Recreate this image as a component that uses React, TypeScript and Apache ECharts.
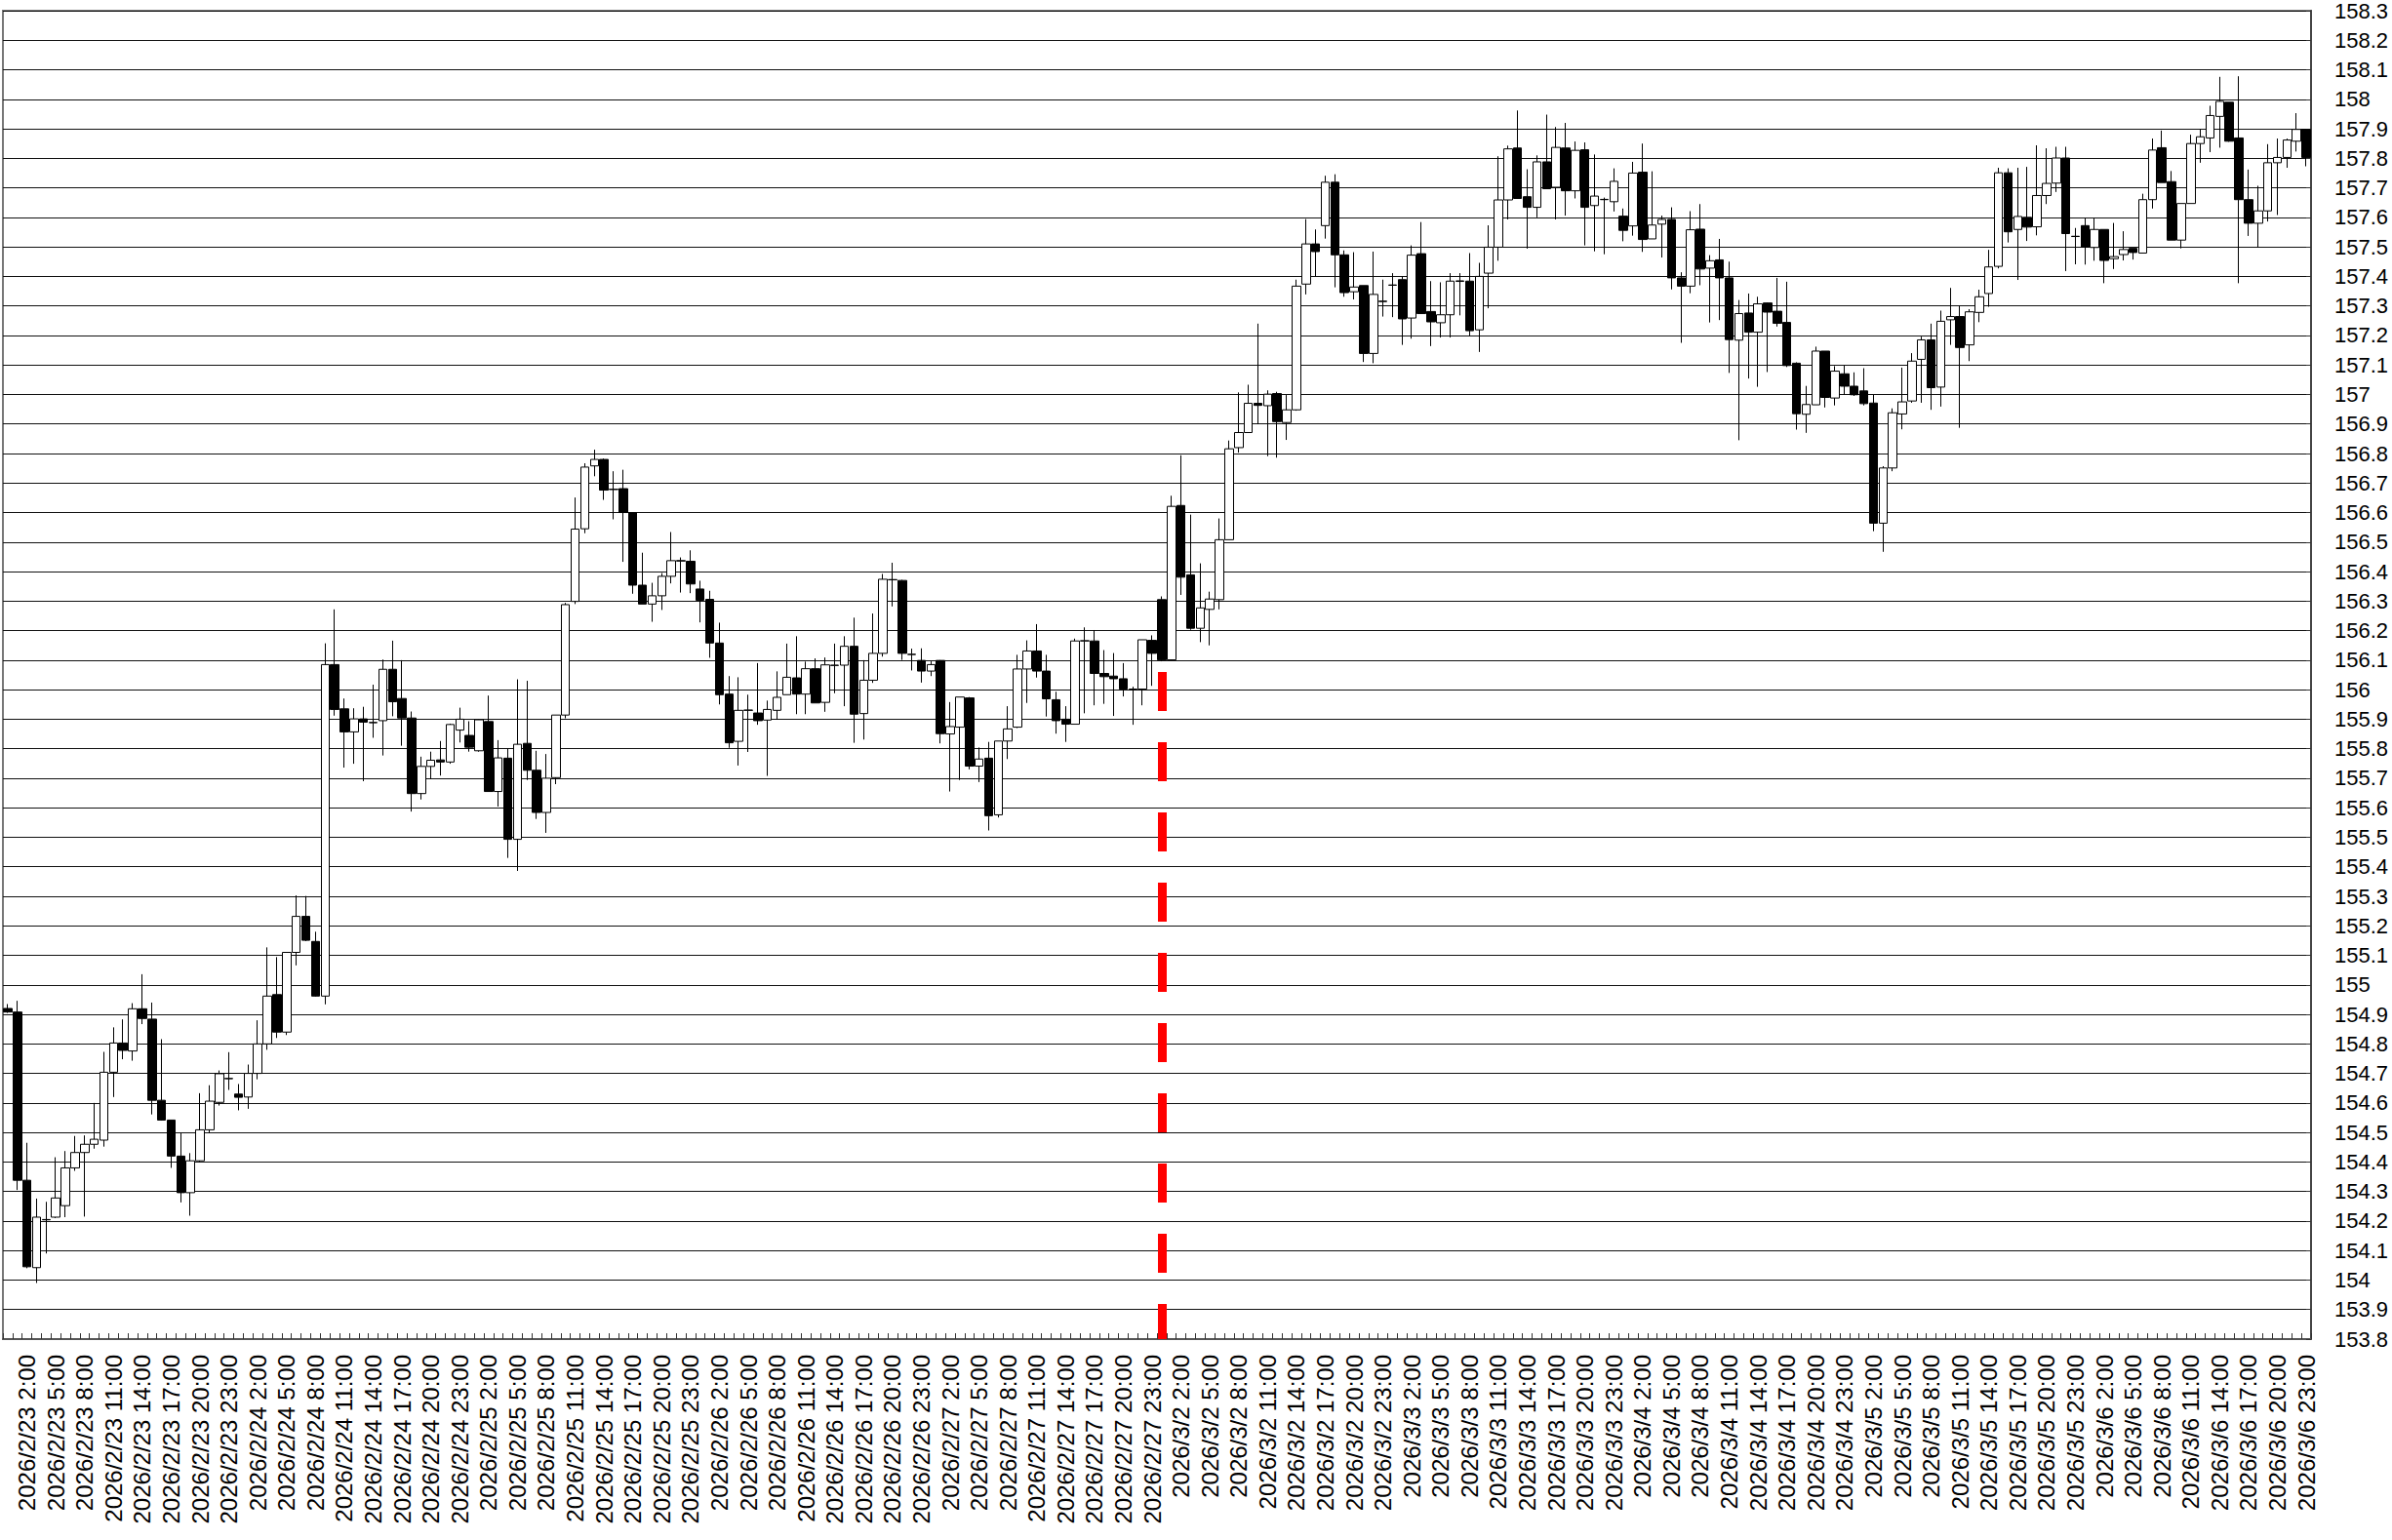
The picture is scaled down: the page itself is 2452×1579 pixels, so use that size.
import React, { useEffect, useRef } from 'react';
import * as echarts from 'echarts';

const days = ['2026/2/23', '2026/2/24', '2026/2/25', '2026/2/26', '2026/2/27', '2026/3/2', '2026/3/3', '2026/3/4', '2026/3/5', '2026/3/6'];
const hourLabels = Array.from({ length: 24 }, (_, h) => `${h}:00`);
const categories = days.flatMap((d) => hourLabels.map((h) => `${d} ${h}`));

const openP = [
  154.92, 154.908, 154.338, 154.042, 154.205, 154.213, 154.252, 154.38, 154.432, 154.46,
  154.474, 154.704, 154.803, 154.776, 154.919, 154.884, 154.609, 154.542, 154.42, 154.296,
  154.404, 154.509, 154.602, 154.682, 154.63, 154.62, 154.7, 154.8, 154.967, 154.84,
  155.11, 155.232, 155.147, 154.962, 156.085, 155.935, 155.857, 155.901, 155.888, 155.895,
  156.069, 155.97, 155.904, 155.648, 155.74, 155.762, 155.755, 155.863, 155.845, 155.793,
  155.892, 155.655, 155.768, 155.493, 155.818, 155.727, 155.584, 155.702, 155.914, 156.299,
  156.545, 156.758, 156.78, 156.679, 156.681, 156.6, 156.354, 156.29, 156.318, 156.384,
  156.437, 156.435, 156.341, 156.306, 156.158, 155.985, 155.825, 155.93, 155.921, 155.897,
  155.93, 155.983, 156.04, 155.985, 156.071, 155.957, 156.082, 156.083, 156.147, 155.919,
  156.032, 156.123, 156.372, 156.37, 156.119, 156.099, 156.063, 156.099, 155.85, 155.873,
  155.972, 155.741, 155.768, 155.576, 155.826, 155.873, 156.07, 156.131, 156.063, 155.966,
  155.9, 155.883, 156.165, 156.165, 156.055, 156.046, 156.037, 156.002, 156.002, 156.167,
  156.305, 156.101, 156.624, 156.389, 156.208, 156.272, 156.305, 156.508, 156.82, 156.871,
  156.97, 156.962, 157.003, 156.905, 156.948, 157.374, 157.51, 157.572, 157.719, 157.473,
  157.348, 157.369, 157.139, 157.316, 157.37, 157.389, 157.259, 157.477, 157.281, 157.243,
  157.27, 157.383, 157.384, 157.219, 157.411, 157.499, 157.659, 157.835, 157.67, 157.634,
  157.788, 157.702, 157.835, 157.69, 157.829, 157.64, 157.66, 157.653, 157.604, 157.571,
  157.753, 157.527, 157.577, 157.593, 157.395, 157.367, 157.56, 157.428, 157.456, 157.395,
  157.184, 157.276, 157.211, 157.31, 157.282, 157.244, 157.106, 156.933, 156.965, 157.147,
  156.988, 157.07, 157.028, 157.012, 156.971, 156.564, 156.751, 156.934, 156.978, 157.119,
  157.185, 157.025, 157.253, 157.264, 157.168, 157.278, 157.342, 157.434, 157.751, 157.559,
  157.6, 157.568, 157.674, 157.716, 157.801, 157.536, 157.572, 157.498, 157.559, 157.46,
  157.474, 157.495, 157.479, 157.66, 157.836, 157.721, 157.523, 157.647, 157.85, 157.869,
  157.942, 157.99, 157.869, 157.66, 157.58, 157.622, 157.785, 157.803, 157.858, 157.898,
];

const closeP = [
  154.908, 154.338, 154.045, 154.213, 154.204, 154.278, 154.38, 154.432, 154.46, 154.477,
  154.704, 154.803, 154.778, 154.919, 154.886, 154.609, 154.542, 154.42, 154.296, 154.404,
  154.509, 154.606, 154.699, 154.683, 154.619, 154.7, 154.8, 154.962, 154.84, 155.11,
  155.232, 155.151, 154.962, 156.085, 155.933, 155.857, 155.901, 155.89, 155.889, 156.069,
  155.959, 155.904, 155.648, 155.74, 155.761, 155.755, 155.882, 155.9, 155.805, 155.898,
  155.655, 155.769, 155.493, 155.815, 155.727, 155.584, 155.7, 155.914, 156.288, 156.544,
  156.754, 156.78, 156.676, 156.678, 156.6, 156.354, 156.29, 156.318, 156.384, 156.437,
  156.436, 156.358, 156.303, 156.158, 155.983, 155.82, 155.93, 155.931, 155.895, 155.933,
  155.974, 156.042, 155.985, 156.071, 155.955, 156.084, 156.083, 156.147, 155.917, 156.032,
  156.123, 156.374, 156.373, 156.123, 156.12, 156.063, 156.085, 155.851, 155.875, 155.975,
  155.741, 155.765, 155.573, 155.826, 155.867, 156.07, 156.131, 156.063, 155.969, 155.895,
  155.883, 156.165, 156.166, 156.055, 156.044, 156.037, 156.002, 156.001, 156.169, 156.123,
  156.101, 156.621, 156.381, 156.208, 156.277, 156.307, 156.508, 156.816, 156.871, 156.97,
  156.963, 157.001, 156.908, 156.948, 157.367, 157.51, 157.484, 157.719, 157.473, 157.345,
  157.364, 157.139, 157.339, 157.315, 157.371, 157.256, 157.472, 157.274, 157.246, 157.27,
  157.384, 157.385, 157.216, 157.4, 157.499, 157.659, 157.832, 157.664, 157.634, 157.788,
  157.697, 157.837, 157.69, 157.827, 157.634, 157.672, 157.661, 157.722, 157.556, 157.75,
  157.525, 157.574, 157.593, 157.395, 157.367, 157.558, 157.425, 157.453, 157.395, 157.186,
  157.274, 157.211, 157.307, 157.279, 157.241, 157.098, 156.935, 156.966, 157.147, 156.99,
  157.079, 157.028, 156.999, 156.969, 156.564, 156.751, 156.938, 156.975, 157.113, 157.185,
  157.023, 157.248, 157.264, 157.159, 157.28, 157.331, 157.432, 157.751, 157.551, 157.603,
  157.567, 157.674, 157.715, 157.801, 157.545, 157.535, 157.5, 157.559, 157.454, 157.467,
  157.491, 157.481, 157.66, 157.828, 157.718, 157.523, 157.647, 157.85, 157.873, 157.945,
  157.993, 157.858, 157.66, 157.58, 157.622, 157.785, 157.803, 157.862, 157.898, 157.803,
];

const lowP = [
  154.905, 154.305, 154.04, 153.99, 154.09, 154.21, 154.213, 154.37, 154.215, 154.445,
  154.452, 154.62, 154.748, 154.743, 154.867, 154.561, 154.54, 154.38, 154.263, 154.218,
  154.4, 154.498, 154.591, 154.644, 154.575, 154.58, 154.68, 154.78, 154.82, 154.83,
  155.066, 155.148, 154.96, 154.934, 155.912, 155.736, 155.749, 155.69, 155.837, 155.777,
  155.91, 155.81, 155.587, 155.628, 155.697, 155.709, 155.749, 155.821, 155.79, 155.79,
  155.655, 155.604, 155.43, 155.386, 155.694, 155.562, 155.515, 155.68, 155.903, 156.29,
  156.53, 156.723, 156.643, 156.577, 156.433, 156.325, 156.29, 156.23, 156.27, 156.36,
  156.329, 156.327, 156.228, 156.108, 155.95, 155.803, 155.743, 155.789, 155.881, 155.708,
  155.898, 155.983, 155.917, 155.917, 155.955, 155.925, 155.988, 155.944, 155.82, 155.831,
  156.023, 156.112, 156.282, 156.101, 156.065, 156.024, 156.046, 155.818, 155.655, 155.694,
  155.73, 155.687, 155.523, 155.567, 155.765, 155.87, 155.955, 156.041, 155.909, 155.851,
  155.823, 155.883, 155.92, 155.947, 155.952, 155.911, 155.977, 155.881, 155.947, 156.013,
  156.096, 156.1, 156.321, 156.203, 156.161, 156.15, 156.272, 156.508, 156.803, 156.87,
  156.899, 156.791, 156.786, 156.846, 156.945, 157.339, 157.4, 157.528, 157.363, 157.331,
  157.322, 157.11, 157.106, 157.264, 157.262, 157.168, 157.189, 157.274, 157.164, 157.193,
  157.193, 157.268, 157.198, 157.144, 157.292, 157.453, 157.593, 157.664, 157.494, 157.6,
  157.697, 157.593, 157.606, 157.664, 157.505, 157.485, 157.475, 157.62, 157.519, 157.538,
  157.483, 157.527, 157.464, 157.356, 157.175, 157.343, 157.37, 157.244, 157.252, 157.073,
  156.845, 157.054, 157.026, 157.076, 157.23, 157.093, 156.881, 156.87, 156.965, 156.956,
  156.963, 156.999, 156.995, 156.963, 156.537, 156.467, 156.74, 156.882, 156.972, 156.972,
  156.948, 156.959, 157.168, 156.887, 157.113, 157.245, 157.297, 157.427, 157.515, 157.388,
  157.52, 157.539, 157.645, 157.686, 157.418, 157.441, 157.44, 157.453, 157.377, 157.425,
  157.454, 157.457, 157.479, 157.63, 157.718, 157.523, 157.495, 157.647, 157.785, 157.821,
  157.836, 157.856, 157.377, 157.537, 157.498, 157.586, 157.608, 157.768, 157.823, 157.773,
];

const highP = [
  154.935, 154.946, 154.465, 154.276, 154.265, 154.416, 154.437, 154.488, 154.49, 154.6,
  154.773, 154.856, 154.883, 154.938, 155.036, 154.94, 154.816, 154.542, 154.498, 154.43,
  154.633, 154.66, 154.71, 154.772, 154.664, 154.73, 154.88, 155.127, 155.094, 155.11,
  155.303, 155.301, 155.18, 156.157, 156.272, 155.97, 155.937, 155.942, 156.017, 156.102,
  156.166, 156.1, 155.926, 155.773, 155.79, 155.826, 155.885, 155.939, 155.893, 155.9,
  155.98, 155.829, 155.8, 156.035, 156.03, 155.793, 155.782, 155.914, 156.294, 156.651,
  156.767, 156.813, 156.783, 156.74, 156.745, 156.6, 156.464, 156.362, 156.395, 156.534,
  156.448, 156.472, 156.369, 156.335, 156.227, 156.046, 156.042, 155.983, 156.09, 155.963,
  156.062, 156.156, 156.181, 156.095, 156.106, 156.109, 156.156, 156.181, 156.244, 156.1,
  156.258, 156.392, 156.43, 156.372, 156.139, 156.14, 156.096, 156.1, 155.958, 155.975,
  155.975, 155.804, 155.823, 155.826, 155.944, 156.118, 156.167, 156.222, 156.118, 155.993,
  155.944, 156.173, 156.211, 156.202, 156.134, 156.124, 156.09, 156.01, 156.169, 156.184,
  156.316, 156.657, 156.794, 156.593, 156.428, 156.332, 156.58, 156.844, 157.007, 157.033,
  157.24, 157.014, 157.009, 156.998, 157.389, 157.594, 157.559, 157.741, 157.746, 157.488,
  157.482, 157.369, 157.484, 157.389, 157.411, 157.4, 157.505, 157.584, 157.384, 157.38,
  157.411, 157.411, 157.479, 157.446, 157.573, 157.807, 157.843, 157.962, 157.763, 157.81,
  157.948, 157.906, 157.92, 157.857, 157.854, 157.813, 157.667, 157.766, 157.63, 157.788,
  157.85, 157.756, 157.606, 157.634, 157.414, 157.621, 157.645, 157.472, 157.527, 157.45,
  157.32, 157.342, 157.331, 157.312, 157.395, 157.382, 157.109, 157.029, 157.162, 157.147,
  157.096, 157.098, 157.075, 157.089, 156.999, 156.757, 156.953, 157.091, 157.14, 157.196,
  157.24, 157.284, 157.361, 157.3, 157.289, 157.355, 157.49, 157.768, 157.766, 157.768,
  157.771, 157.844, 157.834, 157.839, 157.839, 157.564, 157.597, 157.597, 157.559, 157.581,
  157.553, 157.495, 157.68, 157.867, 157.894, 157.757, 157.647, 157.88, 157.898, 157.978,
  158.076, 157.99, 158.078, 157.762, 157.707, 157.848, 157.867, 157.867, 157.953, 157.898,
];

const yMin = 153.8;
const yMax = 158.3;
const yStep = 0.1;
const weekStartIndex = 120;
const weekLineTop = 156.06;

export default function App() {
  const ref = useRef<HTMLDivElement>(null);

  useEffect(() => {
    if (!ref.current) return;
    const chart = echarts.init(ref.current, undefined, { renderer: 'svg' });
    const data = openP.map((o, i) => [o, closeP[i], lowP[i], highP[i]]);
    const font = 'Liberation Sans, Arial, sans-serif';
    chart.setOption({
      animation: false,
      backgroundColor: '#ffffff',
      grid: {
        left: 3,
        right: 83,
        top: 10,
        bottom: 206,
        show: true,
        borderColor: '#777',
        borderWidth: 2,
        backgroundColor: 'transparent',
      },
      xAxis: {
        type: 'category',
        data: categories,
        boundaryGap: true,
        axisLine: { show: true, lineStyle: { color: '#555', width: 2 } },
        axisTick: { show: true, inside: true, length: 6, interval: 0, lineStyle: { color: '#333', width: 1 } },
        axisLabel: {
          rotate: 90,
          interval: (i: number) => i % 3 === 2,
          fontFamily: font,
          fontSize: 24,
          color: '#000',
          margin: 16,
        },
        splitLine: { show: false },
      },
      yAxis: {
        type: 'value',
        position: 'right',
        min: yMin,
        max: yMax,
        interval: yStep,
        axisLine: { show: true, lineStyle: { color: '#444', width: 2 } },
        axisTick: { show: true, inside: true, length: 5, lineStyle: { color: '#333' } },
        axisLabel: {
          fontFamily: font,
          fontSize: 22,
          color: '#000',
          margin: 24,
          formatter: (v: number) => String(Math.round(v * 10) / 10),
        },
        splitLine: { show: true, lineStyle: { color: '#111', width: 1 } },
      },
      series: [
        {
          type: 'candlestick',
          data,
          barWidth: 9,
          itemStyle: {
            color: '#ffffff',
            color0: '#000000',
            borderColor: '#000000',
            borderColor0: '#000000',
            borderWidth: 1,
          },
          emphasis: { disabled: true },
          markLine: {
            silent: true,
            symbol: ['none', 'none'],
            label: { show: false },
            lineStyle: { color: '#ff0000', width: 9, type: [40, 32], cap: 'butt' },
            emphasis: { disabled: true },
            data: [
              [
                { coord: [categories[weekStartIndex], weekLineTop] },
                { coord: [categories[weekStartIndex], yMin] },
              ],
            ],
          },
        },
      ],
    });
    return () => chart.dispose();
  }, []);

  return (
    <div
      ref={ref}
      style={{ position: 'fixed', left: 0, top: 0, width: 2452, height: 1579, background: '#fff' }}
    />
  );
}
